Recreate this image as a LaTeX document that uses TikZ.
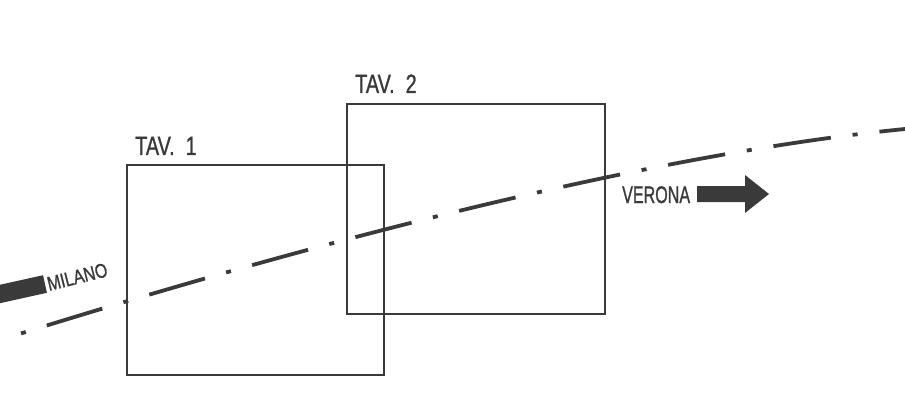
\documentclass[tikz,border=0pt]{standalone}
\usepackage{fontspec}
\setmainfont{Liberation Sans}[FakeBold=1.2]
\definecolor{ink}{HTML}{3A3A3A}
\begin{document}
\begin{tikzpicture}[x=1pt,y=-1pt,
  tavbox/.style={draw=ink, line width=1.8pt, rectangle, inner sep=0pt},
  lbl/.style={text=ink, inner sep=0pt, anchor=base west},
  axisline/.style={draw=ink, line width=3.8pt, dash pattern=on 58pt off 22pt on 5pt off 22pt, dash phase=58pt}]
\useasboundingbox (0,0) rectangle (905,417);
\clip (0,0) rectangle (905,417);
\fill[white] (0,0) rectangle (905,417);
% boxes
\node[tavbox, minimum width=257pt, minimum height=210pt] (b1) at (255.5,270) {};
\node[tavbox, minimum width=258pt, minimum height=210pt] (b2) at (476,209) {};
% labels
\node[lbl, font=\fontsize{26.5}{30}\selectfont] (t1) at (135,155) {\scalebox{0.75}[1]{TAV.\ \ 1}};
\node[lbl, font=\fontsize{26.5}{30}\selectfont] (t2) at (355,93) {\scalebox{0.75}[1]{TAV.\ \ 2}};
% axis
\coordinate (a0) at (0,340);
\coordinate (a1) at (905,129);
\draw[axisline] (a0) .. controls (380,221) and (690,150) .. (a1);
% Verona
\node[lbl, font=\fontsize{24}{28}\selectfont] (ver) at (622,203) {\scalebox{0.67}[1]{VERONA}};
\fill[ink] (697,186) -- (745,186) -- (745,175) -- (769,194) -- (745,213) -- (745,202) -- (697,202) -- cycle;
% Milano
\node[lbl, font=\fontsize{20}{24}\selectfont, rotate=14] (mil) at (49,291) {\scalebox{0.8}[1]{MILANO}};
\begin{scope}[shift={(45,284)}, rotate=12.5]
\fill[ink] (0,-9) -- (-60,-9) -- (-60,-19) -- (-85,0) -- (-60,19) -- (-60,9) -- (0,9) -- cycle;
\end{scope}
\end{tikzpicture}
\end{document}
